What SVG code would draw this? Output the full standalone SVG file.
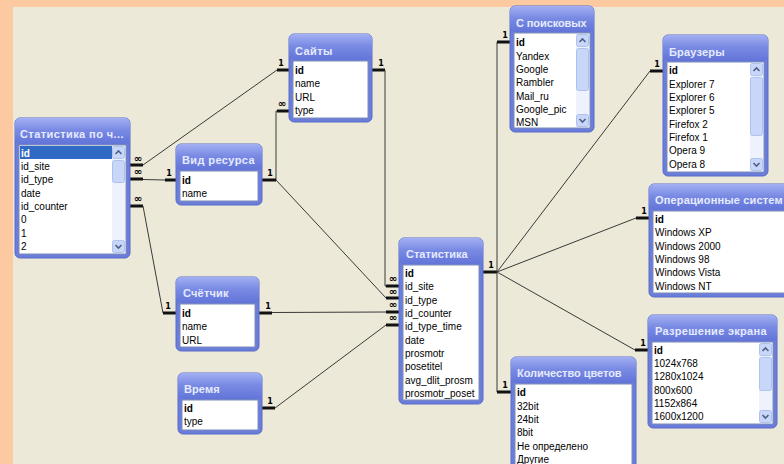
<svg xmlns="http://www.w3.org/2000/svg" width="784" height="464" viewBox="0 0 784 464">
<defs>
<linearGradient id="tg" x1="0" y1="0" x2="0" y2="1">
<stop offset="0" stop-color="#A3B0F2"/>
<stop offset="0.45" stop-color="#7A8BE4"/>
<stop offset="1" stop-color="#6274D8"/>
</linearGradient>
<style>
.fr{fill:#6B7DDA;stroke:#5B6CCB;stroke-width:1}
.tb{fill:url(#tg)}
.ls{fill:#FFFFFF;stroke:#7C8CB8;stroke-width:1}
.t{font-family:"Liberation Sans",Arial,sans-serif;font-size:11px;font-weight:bold;fill:#E6EBFF;letter-spacing:0.4px}
.r{font-family:"Liberation Sans",Arial,sans-serif;font-size:10px;fill:#000}
.pk{font-weight:bold}
.tr{fill:#EEF2FC}
.sb{fill:#C8D6FA;stroke:#AFC2EE;stroke-width:1}
.ch{fill:none;stroke:#4D6185;stroke-width:1.6}
.c{fill:none;stroke:#3A3A3A;stroke-width:1}
.b{stroke:#111;stroke-width:3}
.one{font-family:"DejaVu Sans",sans-serif;font-size:8px;font-weight:bold;fill:#000;text-anchor:middle}
.inf{font-family:"DejaVu Sans",sans-serif;font-size:10px;font-weight:bold;fill:#000;text-anchor:middle}
</style>
</defs>
<rect x="0" y="0" width="784" height="464" fill="#FDC9A1"/>
<rect x="13" y="7" width="771" height="457" fill="#ECE9D8"/>

<g id="connectors">
<line class="b" x1="130" y1="165" x2="143" y2="165"/>
<line class="c" x1="143" y1="165" x2="277" y2="70"/>
<line class="b" x1="277" y1="70" x2="289" y2="70"/>
<text class="inf" x="138" y="162">∞</text>
<text class="one" x="281" y="66">1</text>
<line class="b" x1="130" y1="179" x2="143" y2="179"/>
<line class="c" x1="143" y1="179.5" x2="165" y2="180"/>
<line class="b" x1="165" y1="180" x2="176" y2="180"/>
<text class="inf" x="138" y="175">∞</text>
<text class="one" x="169" y="176">1</text>
<line class="b" x1="130" y1="206" x2="143" y2="206"/>
<line class="c" x1="143" y1="206" x2="163" y2="313"/>
<line class="b" x1="163" y1="313" x2="176" y2="313"/>
<text class="inf" x="138" y="202">∞</text>
<text class="one" x="168" y="309">1</text>
<line class="b" x1="277" y1="111" x2="289" y2="111"/>
<polyline class="c" points="277,111 276,111 276,180"/>
<line class="b" x1="262" y1="180" x2="276" y2="180"/>
<text class="inf" x="282" y="107">∞</text>
<text class="one" x="270" y="176">1</text>
<line class="b" x1="372" y1="70" x2="385" y2="70"/>
<polyline class="c" points="385,70 385,286 386,286"/>
<line class="b" x1="386" y1="286" x2="399" y2="286"/>
<text class="one" x="381" y="66">1</text>
<text class="inf" x="393" y="282">∞</text>
<line class="c" x1="276" y1="180" x2="386" y2="298"/>
<line class="b" x1="386" y1="298" x2="399" y2="298"/>
<text class="inf" x="393" y="295">∞</text>
<line class="b" x1="259" y1="313" x2="272" y2="313"/>
<line class="c" x1="272" y1="312.5" x2="386" y2="312"/>
<line class="b" x1="386" y1="312" x2="399" y2="312"/>
<text class="one" x="268" y="309">1</text>
<text class="inf" x="393" y="308">∞</text>
<line class="b" x1="262" y1="408" x2="275" y2="408"/>
<line class="c" x1="275" y1="408" x2="386" y2="325"/>
<line class="b" x1="386" y1="325" x2="399" y2="325"/>
<text class="one" x="270" y="404">1</text>
<text class="inf" x="393" y="321">∞</text>
<line class="b" x1="483" y1="272" x2="497" y2="272"/>
<text class="one" x="491" y="268">1</text>
<polyline class="c" points="497,272 497,42"/>
<line class="b" x1="497" y1="42" x2="510" y2="42"/>
<text class="one" x="505" y="38">1</text>
<line class="c" x1="497" y1="272" x2="650" y2="71"/>
<line class="b" x1="650" y1="71" x2="663" y2="71"/>
<text class="one" x="657" y="67">1</text>
<line class="c" x1="497" y1="272" x2="636" y2="218"/>
<line class="b" x1="636" y1="218" x2="649" y2="218"/>
<text class="one" x="644" y="214">1</text>
<line class="c" x1="497" y1="272" x2="635" y2="350"/>
<line class="b" x1="635" y1="350" x2="648" y2="350"/>
<text class="one" x="643" y="346">1</text>
<polyline class="c" points="497,272 497,392"/>
<line class="b" x1="497" y1="392" x2="511" y2="392"/>
<text class="one" x="505" y="388">1</text>
</g>

<g id="stat-po-ch">
<rect class="fr" x="15" y="118" width="115" height="140" rx="5"/>
<rect class="tb" x="15" y="118" width="115" height="26" rx="5"/>
<text class="t" x="20" y="138" textLength="104" lengthAdjust="spacing">Статистика по ч...</text>
<rect class="ls" x="19" y="145" width="107" height="109"/>
<rect x="20" y="146" width="92" height="13" fill="#316AC5"/>
<text class="r pk" x="21" y="156.5" style="fill:#fff">id</text>
<text class="r" x="21" y="169.8">id_site</text>
<text class="r" x="21" y="183">id_type</text>
<text class="r" x="21" y="196.5">date</text>
<text class="r" x="21" y="209.8">id_counter</text>
<text class="r" x="21" y="223">0</text>
<text class="r" x="21" y="236.5">1</text>
<text class="r" x="21" y="249.8">2</text>
<rect class="tr" x="112" y="146" width="13" height="107"/>
<rect class="sb" x="112.5" y="146.5" width="12" height="12" rx="2"/>
<polyline class="ch" points="115.5,154 118.5,151 121.5,154"/>
<rect class="sb" x="112.5" y="160.5" width="12" height="22" rx="2"/>
<rect class="sb" x="112.5" y="240.5" width="12" height="12" rx="2"/>
<polyline class="ch" points="115.5,245 118.5,248 121.5,245"/>
</g>

<g id="saity">
<rect class="fr" x="289" y="34" width="83" height="88" rx="5"/>
<rect class="tb" x="289" y="34" width="83" height="26" rx="5"/>
<text class="t" x="295" y="55">Сайты</text>
<rect class="ls" x="293" y="61" width="75" height="57"/>
<text class="r pk" x="295" y="73.5">id</text>
<text class="r" x="295" y="87">name</text>
<text class="r" x="295" y="100.5">URL</text>
<text class="r" x="295" y="114">type</text>
</g>

<g id="vid-resursa">
<rect class="fr" x="176" y="144" width="86" height="61" rx="5"/>
<rect class="tb" x="176" y="144" width="86" height="26" rx="5"/>
<text class="t" x="182" y="164" textLength="73" lengthAdjust="spacing">Вид ресурса</text>
<rect class="ls" x="180" y="171" width="78" height="30"/>
<text class="r pk" x="182" y="183.5">id</text>
<text class="r" x="182" y="197">name</text>
</g>

<g id="schetchik">
<rect class="fr" x="176" y="277" width="83" height="74" rx="5"/>
<rect class="tb" x="176" y="277" width="83" height="26" rx="5"/>
<text class="t" x="183" y="297" textLength="46" lengthAdjust="spacing">Счётчик</text>
<rect class="ls" x="180" y="304" width="75" height="43"/>
<text class="r pk" x="182" y="316.5">id</text>
<text class="r" x="182" y="330">name</text>
<text class="r" x="182" y="343.5">URL</text>
</g>

<g id="vremya">
<rect class="fr" x="178" y="373" width="84" height="61" rx="5"/>
<rect class="tb" x="178" y="373" width="84" height="26" rx="5"/>
<text class="t" x="184" y="393" textLength="36" lengthAdjust="spacing">Время</text>
<rect class="ls" x="182" y="400" width="76" height="30"/>
<text class="r pk" x="184" y="411.5">id</text>
<text class="r" x="184" y="425">type</text>
</g>

<g id="statistika">
<rect class="fr" x="399" y="238" width="84" height="166" rx="5"/>
<rect class="tb" x="399" y="238" width="84" height="26" rx="5"/>
<text class="t" x="406" y="258" textLength="62" lengthAdjust="spacing">Статистика</text>
<rect class="ls" x="403" y="265" width="76" height="135"/>
<text class="r pk" x="405" y="276.8">id</text>
<text class="r" x="405" y="290.1">id_site</text>
<text class="r" x="405" y="303.5">id_type</text>
<text class="r" x="405" y="316.8">id_counter</text>
<text class="r" x="405" y="330.1">id_type_time</text>
<text class="r" x="405" y="343.5">date</text>
<text class="r" x="405" y="356.8">prosmotr</text>
<text class="r" x="405" y="370.1">posetitel</text>
<text class="r" x="405" y="383.5">avg_dlit_prosm</text>
<text class="r" x="405" y="396.8">prosmotr_poset</text>
</g>

<g id="s-poiskovyh">
<rect class="fr" x="510" y="6" width="84" height="126" rx="5"/>
<rect class="tb" x="510" y="6" width="84" height="26" rx="5"/>
<text class="t" x="516" y="27" textLength="71" lengthAdjust="spacing">С поисковых</text>
<rect class="ls" x="514" y="33" width="76" height="95"/>
<text class="r pk" x="516" y="46.2">id</text>
<text class="r" x="516" y="59.5">Yandex</text>
<text class="r" x="516" y="72.9">Google</text>
<text class="r" x="516" y="86.2">Rambler</text>
<text class="r" x="516" y="99.5">Mail_ru</text>
<text class="r" x="516" y="112.9">Google_pic</text>
<text class="r" x="516" y="126.2">MSN</text>
<rect class="tr" x="576" y="34" width="13" height="93"/>
<rect class="sb" x="576.5" y="34.5" width="12" height="12" rx="2"/>
<polyline class="ch" points="579.5,42 582.5,39 585.5,42"/>
<rect class="sb" x="576.5" y="48.5" width="12" height="42" rx="2"/>
<rect class="sb" x="576.5" y="114.5" width="12" height="12" rx="2"/>
<polyline class="ch" points="579.5,119 582.5,122 585.5,119"/>
</g>

<g id="brauzery">
<rect class="fr" x="663" y="35" width="105" height="141" rx="5"/>
<rect class="tb" x="663" y="35" width="105" height="26" rx="5"/>
<text class="t" x="669" y="56" textLength="56" lengthAdjust="spacing">Браузеры</text>
<rect class="ls" x="667" y="62" width="97" height="110"/>
<text class="r pk" x="669" y="74.2">id</text>
<text class="r" x="669" y="87.5">Explorer 7</text>
<text class="r" x="669" y="100.9">Explorer 6</text>
<text class="r" x="669" y="114.2">Explorer 5</text>
<text class="r" x="669" y="127.5">Firefox 2</text>
<text class="r" x="669" y="140.9">Firefox 1</text>
<text class="r" x="669" y="154.2">Opera 9</text>
<text class="r" x="669" y="167.5">Opera 8</text>
<rect class="tr" x="750" y="63" width="13" height="108"/>
<rect class="sb" x="750.5" y="63.5" width="12" height="12" rx="2"/>
<polyline class="ch" points="753.5,71 756.5,68 759.5,71"/>
<rect class="sb" x="750.5" y="77.5" width="12" height="58" rx="2"/>
<rect class="sb" x="750.5" y="158.5" width="12" height="12" rx="2"/>
<polyline class="ch" points="753.5,163 756.5,166 759.5,163"/>
</g>

<g id="os">
<rect class="fr" x="649" y="184" width="140" height="113" rx="5"/>
<rect class="tb" x="649" y="184" width="140" height="26" rx="5"/>
<text class="t" x="655" y="204" textLength="128" lengthAdjust="spacing">Операционные систем</text>
<rect class="ls" x="653" y="211" width="140" height="82"/>
<text class="r pk" x="655" y="222.8">id</text>
<text class="r" x="655" y="236.1">Windows XP</text>
<text class="r" x="655" y="249.5">Windows 2000</text>
<text class="r" x="655" y="262.8">Windows 98</text>
<text class="r" x="655" y="276.1">Windows Vista</text>
<text class="r" x="655" y="289.5">Windows NT</text>
</g>

<g id="razreshenie">
<rect class="fr" x="648" y="315" width="129" height="113" rx="5"/>
<rect class="tb" x="648" y="315" width="129" height="26" rx="5"/>
<text class="t" x="655" y="335" textLength="112" lengthAdjust="spacing">Разрешение экрана</text>
<rect class="ls" x="652" y="342" width="121" height="82"/>
<text class="r pk" x="654" y="353.5">id</text>
<text class="r" x="654" y="366.8">1024x768</text>
<text class="r" x="654" y="380.2">1280x1024</text>
<text class="r" x="654" y="393.5">800x600</text>
<text class="r" x="654" y="406.8">1152x864</text>
<text class="r" x="654" y="420.2">1600x1200</text>
<rect class="tr" x="759" y="343" width="13" height="80"/>
<rect class="sb" x="759.5" y="343.5" width="12" height="12" rx="2"/>
<polyline class="ch" points="762.5,351 765.5,348 768.5,351"/>
<rect class="sb" x="759.5" y="357.5" width="12" height="33" rx="2"/>
<rect class="sb" x="759.5" y="410.5" width="12" height="12" rx="2"/>
<polyline class="ch" points="762.5,415 765.5,418 768.5,415"/>
</g>

<g id="kolichestvo-cvetov">
<rect class="fr" x="511" y="357" width="125" height="115" rx="5"/>
<rect class="tb" x="511" y="357" width="125" height="26" rx="5"/>
<text class="t" x="517" y="377" textLength="105" lengthAdjust="spacing">Количество цветов</text>
<rect class="ls" x="515" y="384" width="117" height="90"/>
<text class="r pk" x="517" y="396.2">id</text>
<text class="r" x="517" y="409.5">32bit</text>
<text class="r" x="517" y="422.9">24bit</text>
<text class="r" x="517" y="436.2">8bit</text>
<text class="r" x="517" y="449.5">Не определено</text>
<text class="r" x="517" y="462.5">Другие</text>
</g>
</svg>
